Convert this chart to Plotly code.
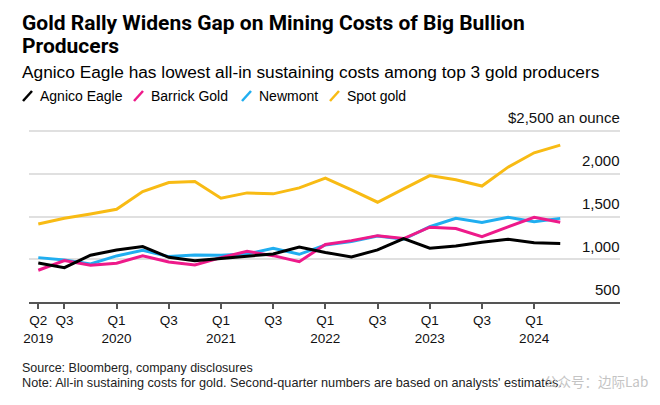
import plotly.graph_objects as go

# ---------------- data ----------------
quarters = ["Q2 2019", "Q3 2019", "Q4 2019", "Q1 2020", "Q2 2020", "Q3 2020", "Q4 2020",
            "Q1 2021", "Q2 2021", "Q3 2021", "Q4 2021", "Q1 2022", "Q2 2022", "Q3 2022",
            "Q4 2022", "Q1 2023", "Q2 2023", "Q3 2023", "Q4 2023", "Q1 2024", "Q2 2024"]
agnico_eagle = [955, 902, 1047, 1109, 1148, 1023, 984, 1012, 1039, 1062, 1142, 1080, 1027,
                1109, 1242, 1129, 1154, 1200, 1234, 1194, 1185]
barrick_gold = [871, 984, 930, 953, 1039, 968, 933, 1019, 1092, 1042, 972, 1172, 1218, 1276,
                1242, 1375, 1360, 1263, 1378, 1490, 1433]
newmont = [1019, 992, 945, 1039, 1105, 1031, 1050, 1047, 1062, 1129, 1058, 1167, 1206, 1273,
           1234, 1380, 1480, 1429, 1492, 1440, 1478]
spot_gold = [1413, 1480, 1530, 1585, 1792, 1897, 1909, 1714, 1776, 1765, 1835, 1948, 1811,
             1667, 1823, 1979, 1929, 1856, 2077, 2245, 2335]

x_tick_labels = ["Q2<br>2019", "Q3", "Q1<br>2020", "Q3", "Q1<br>2021", "Q3", "Q1<br>2022",
                 "Q3", "Q1<br>2023", "Q3", "Q1<br>2024"]
x_tick_quarters = ["Q2 2019", "Q3 2019", "Q1 2020", "Q3 2020", "Q1 2021", "Q3 2021",
                   "Q1 2022", "Q3 2022", "Q1 2023", "Q3 2023", "Q1 2024"]
y_tick_vals = [500, 1000, 1500, 2000, 2500]
y_tick_labels = ["500", "1,000", "1,500", "2,000", "$2,500 an ounce"]

series = [
    ("Spot gold", spot_gold, "#f8bb14"),
    ("Newmont", newmont, "#20aef0"),
    ("Barrick Gold", barrick_gold, "#ee1a8a"),
    ("Agnico Eagle", agnico_eagle, "#000000"),
]
legend_order = ["Agnico Eagle", "Barrick Gold", "Newmont", "Spot gold"]

# ---------------- layout geometry ----------------
W, H = 660, 405
L, R, T, B = 29, 40, 128, 103
PW, PH = W - L - R, H - T - B
Y_RANGE = [500, 2535]


def px_x(px):
    return (px - L) / PW


def px_y(py):
    return (H - B - py) / PH


FONT = "Liberation Sans, Arial, Helvetica, sans-serif"
TITLE_FONT = "Roboto, Liberation Sans, Arial, sans-serif"

idx = list(range(len(quarters)))
fig = go.Figure()
for name, vals, color in series:
    fig.add_trace(go.Scatter(
        x=idx, y=vals, mode="lines", name=name,
        line=dict(color=color, width=3),
        showlegend=False, hoverinfo="skip",
    ))

annotations = []
shapes = []

# title / subtitle
annotations.append(dict(text="<b>Gold Rally Widens Gap on Mining Costs of Big Bullion</b>",
                        x=px_x(20), y=px_y(23), xanchor="left", yanchor="middle",
                        font=dict(family=TITLE_FONT, size=21, color="#000")))
annotations.append(dict(text="<b>Producers</b>",
                        x=px_x(20), y=px_y(46), xanchor="left", yanchor="middle",
                        font=dict(family=TITLE_FONT, size=21, color="#000")))
annotations.append(dict(text="Agnico Eagle has lowest all-in sustaining costs among top 3 gold producers",
                        x=px_x(20), y=px_y(72), xanchor="left", yanchor="middle",
                        font=dict(family=FONT, size=17.3, color="#000")))

# legend (slash icons + labels)
colors = {n: c for n, _, c in series}
legend_icon_px = {"Agnico Eagle": 23, "Barrick Gold": 134, "Newmont": 242, "Spot gold": 330}
for name in legend_order:
    lx = legend_icon_px[name]
    shapes.append(dict(type="line", xref="paper", yref="paper",
                       x0=px_x(lx), y0=px_y(101), x1=px_x(lx + 9), y1=px_y(91),
                       line=dict(color=colors[name], width=2.5)))
    annotations.append(dict(text=name, x=px_x(lx + 15), y=px_y(96), xanchor="left",
                            yanchor="middle", font=dict(family=FONT, size=14, color="#000")))

# footnotes
annotations.append(dict(text="Source: Bloomberg, company disclosures",
                        x=px_x(20), y=px_y(368), xanchor="left", yanchor="middle",
                        font=dict(family=FONT, size=12.5, color="#222")))
annotations.append(dict(text="Note: All-in sustaining costs for gold. Second-quarter numbers are based on analysts' estimates.",
                        x=px_x(20), y=px_y(383), xanchor="left", yanchor="middle",
                        font=dict(family=FONT, size=12.7, color="#222")))
annotations.append(dict(text="公众号：边际Lab",
                        x=px_x(650), y=px_y(381), xanchor="right", yanchor="middle",
                        font=dict(family="Noto Sans CJK SC, sans-serif", size=13.5, color="#c4c4c4")))

for a in annotations:
    a.update(xref="paper", yref="paper", showarrow=False)

# y-axis value labels: right-aligned at the plot's right edge, sitting above each gridline
for val, lab in zip(y_tick_vals, y_tick_labels):
    annotations.append(dict(text=lab, xref="paper", x=1.0, yref="y", y=val,
                            xanchor="right", yanchor="middle", yshift=13, xshift=2,
                            showarrow=False,
                            font=dict(family=FONT, size=15, color="#111")))

fig.update_layout(
    width=W, height=H,
    margin=dict(l=L, r=R, t=T, b=B, pad=0),
    paper_bgcolor="#ffffff", plot_bgcolor="#ffffff",
    annotations=annotations, shapes=shapes,
    font=dict(family=FONT, size=14, color="#000"),
    xaxis=dict(
        range=[-0.356, 22.29],
        tickvals=[quarters.index(q) for q in x_tick_quarters],
        ticktext=x_tick_labels, tickangle=0,
        ticks="outside", ticklen=5, tickwidth=1.5, tickcolor="#555",
        showline=True, linecolor="#555", linewidth=2,
        showgrid=False, zeroline=False,
        tickfont=dict(family=FONT, size=13.5, color="#111"),
        fixedrange=True,
    ),
    yaxis=dict(
        range=Y_RANGE,
        tickmode="array", tickvals=y_tick_vals,
        showticklabels=False, ticks="", showline=False, zeroline=False,
        showgrid=True, gridcolor="#e0e0e0", gridwidth=1.5,
        fixedrange=True,
    ),
)

fig.write_html("out.html", config={"displayModeBar": False},
               post_script="document.body.style.margin='0';")
